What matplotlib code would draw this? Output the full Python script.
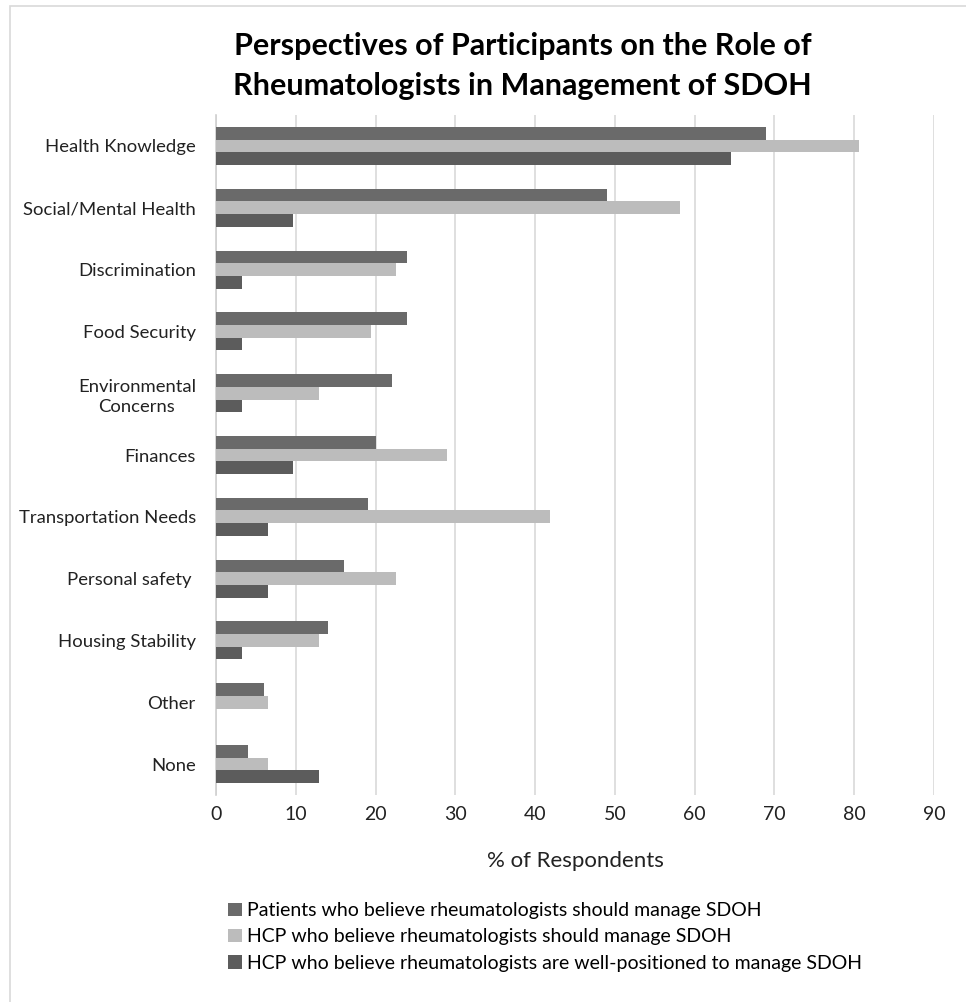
import matplotlib.pyplot as plt
import numpy as np
from matplotlib.patches import Rectangle

plt.rcParams['font.family'] = ['Lato', 'DejaVu Sans']

categorias = ['Health Knowledge', 'Social/Mental Health', 'Discrimination',
              'Food Security', 'Environmental\nConcerns', 'Finances',
              'Transportation Needs', 'Personal safety ', 'Housing Stability',
              'Other', 'None']
pacientes = [69, 49, 24, 24, 22, 20, 19, 16, 14, 6, 4]
hcp_deben = [80.6, 58.1, 22.6, 19.4, 12.9, 29.0, 41.9, 22.6, 12.9, 6.5, 6.5]
hcp_posicion = [64.5, 9.7, 3.2, 3.2, 3.2, 9.7, 6.5, 6.5, 3.2, 0, 12.9]
series = ['Patients who believe rheumatologists should manage SDOH',
          'HCP who believe rheumatologists should manage SDOH',
          'HCP who believe rheumatologists are well-positioned to manage SDOH']
xticks = [0, 10, 20, 30, 40, 50, 60, 70, 80, 90]

colores = ['#6a6a6a', '#bcbcbc', '#5c5c5c']

fig = plt.figure(figsize=(9.66, 10.02), dpi=100)
ax = fig.add_axes([0.2236, 0.2066, 0.7433, 0.6786])

y = np.arange(len(categorias))
h = 0.205
for i, vals in enumerate([pacientes, hcp_deben, hcp_posicion]):
    ax.barh(y + (i - 1) * h, vals, height=h, color=colores[i],
            label=series[i], zorder=3)

ax.set_ylim(len(categorias) - 0.5, -0.5)
ax.set_xlim(0, 90)
ax.set_xticks(xticks)
ax.set_yticks(y)
ax.set_yticklabels(categorias, fontsize=13.3, color='#222222')
for lbl in ax.get_yticklabels():
    lbl.set_multialignment('center')
    lbl.set_linespacing(1.35)
ax.tick_params(axis='y', length=0, pad=14.5)
ax.tick_params(axis='x', length=0, pad=8, labelsize=14, labelcolor='#222222')
ax.grid(axis='x', color='#d9d9d9', linewidth=1.2, zorder=0)
for s in ['top', 'right', 'bottom']:
    ax.spines[s].set_visible(False)
ax.spines['left'].set_color('#d0d0d0')
ax.spines['left'].set_linewidth(1.2)

ax.set_xlabel('% of Respondents', fontsize=16, color='#222222', labelpad=20)

fig.text(0.541, 0.954, 'Perspectives of Participants on the Role of',
         ha='center', va='center', fontsize=22, fontweight='bold')
fig.text(0.541, 0.914, 'Rheumatologists in Management of SDOH',
         ha='center', va='center', fontsize=22, fontweight='bold')

fig.legend(loc='center left', bbox_to_anchor=(0.236, 0.0649), frameon=False,
           fontsize=14, handlelength=0.7, handleheight=0.7,
           handletextpad=0.3, labelspacing=0.48, borderaxespad=0,
           borderpad=0)

# marco del area del grafico
fig.patches.append(Rectangle((10 / 966, -0.01), 1.0, 1 - 6 / 1002 + 0.01,
                             transform=fig.transFigure, fill=False,
                             edgecolor='#d9d9d9', linewidth=1.2))

plt.savefig('out.png', dpi=100)
